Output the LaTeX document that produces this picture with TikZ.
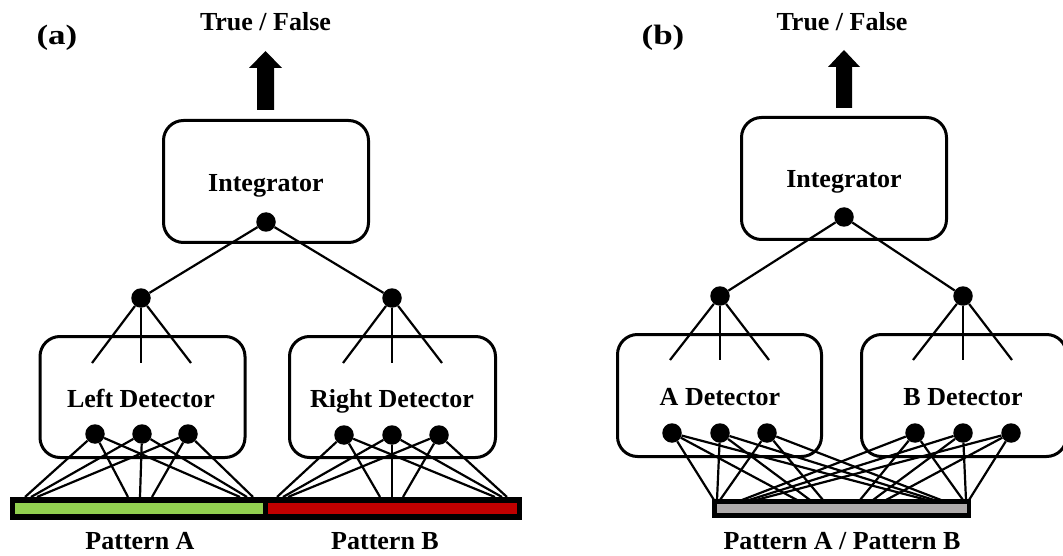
\documentclass[tikz,border=0pt]{standalone}
\usepackage{fontspec}
\usepackage{graphicx}
\setmainfont{Liberation Serif}
\definecolor{barGreen}{RGB}{146,208,80}
\definecolor{barRed}{RGB}{192,0,0}
\definecolor{barGray}{RGB}{174,170,170}
\begin{document}
\begin{tikzpicture}[x=1pt,y=-1pt,
  lbl/.style={font=\fontsize{26}{30}\selectfont\bfseries, inner sep=0pt, anchor=base},
  tag/.style={font=\fontsize{28}{32}\selectfont\bfseries, inner sep=0pt, anchor=base},
  unit/.style={draw, line width=3pt, rounded corners=20pt, inner sep=0pt},
  neuron/.style={circle, fill=black, inner sep=0pt, minimum size=19.5pt},
  wire/.style={line width=2.2pt},
  slab/.style={inner sep=0pt, anchor=north west},
]
\useasboundingbox (0,0) rectangle (1063,556);
\clip (0,0) rectangle (1063,556);

% ---------------- panel (a) ----------------
\node[tag] (labA) at (57,45) {\scalebox{1.25}[1]{(a)}};
\node[lbl] (tfA) at (265.5,31) {True / False};
\fill (257,110) -- (257,68) -- (249,68) -- (265.5,51) -- (282,68) -- (274,68) -- (274,110) -- cycle;

\node[unit, minimum width=205pt, minimum height=122pt] (intA) at (266,181.5) {};
\node[lbl] (intAtxt) at (266,192) {Integrator};
\node[neuron] (iA) at (266,222) {};

\node[neuron] (mA1) at (141,298) {};
\node[neuron] (mA2) at (392,298) {};
\draw[wire] (iA) -- (mA1);
\draw[wire] (iA) -- (mA2);

\node[unit, minimum width=205pt, minimum height=121pt] (detL) at (142.5,397) {};
\node[unit, minimum width=206pt, minimum height=121pt] (detR) at (392.5,397) {};
\node[lbl] (detLtxt) at (141,407) {Left Detector};
\node[lbl] (detRtxt) at (392,407) {Right Detector};

% fan from each detector output into its box
\foreach \n/\x in {1/92,2/141,3/191} {
  \coordinate (fL\n) at (\x,363);
  \draw[wire] (mA1) -- (fL\n);
}
\foreach \n/\x in {1/343,2/392,3/442} {
  \coordinate (fR\n) at (\x,363);
  \draw[wire] (mA2) -- (fR\n);
}

% detector input units
\foreach \n/\x in {1/95,2/142,3/188} \node[neuron] (dL\n) at (\x,434) {};
\foreach \n/\x in {1/344,2/392,3/439} \node[neuron] (dR\n) at (\x,435) {};

% input strip
\node[slab, fill=black, minimum width=512pt, minimum height=23pt] (barA) at (10,497) {};
\node[slab, fill=barGreen, minimum width=248pt, minimum height=11pt] (patA) at (15,503) {};
\node[slab, fill=barRed, minimum width=249pt, minimum height=11pt] (patB) at (268,503) {};
\node[lbl] (patAtxt) at (140,549) {Pattern A};
\node[lbl] (patBtxt) at (385,549) {Pattern B};

% receptive fields: left end, middle, right end of each half
\foreach \n/\a/\b/\c in {1/25/128/240, 2/31/140/247, 3/37/152/253} {
  \coordinate (sLa\n) at (\a,497);
  \coordinate (sLb\n) at (\b,497);
  \coordinate (sLc\n) at (\c,497);
  \draw[wire] (dL\n) -- (sLa\n);
  \draw[wire] (dL\n) -- (sLb\n);
  \draw[wire] (dL\n) -- (sLc\n);
}
\foreach \n/\a/\b/\c in {1/277/380/495, 2/283/392/502, 3/288/403/507} {
  \coordinate (sRa\n) at (\a,497);
  \coordinate (sRb\n) at (\b,497);
  \coordinate (sRc\n) at (\c,497);
  \draw[wire] (dR\n) -- (sRa\n);
  \draw[wire] (dR\n) -- (sRb\n);
  \draw[wire] (dR\n) -- (sRc\n);
}

% ---------------- panel (b) ----------------
\node[tag] (labB) at (663,45) {\scalebox{1.25}[1]{(b)}};
\node[lbl] (tfB) at (842,31) {True / False};
\fill (836,108) -- (836,67) -- (828,67) -- (844,50) -- (860,67) -- (852,67) -- (852,108) -- cycle;

\node[unit, minimum width=205pt, minimum height=122pt] (intB) at (844,178.5) {};
\node[lbl] (intBtxt) at (844,188) {Integrator};
\node[neuron] (iB) at (844,217) {};

\node[neuron] (mB1) at (720,296) {};
\node[neuron] (mB2) at (963,296) {};
\draw[wire] (iB) -- (mB1);
\draw[wire] (iB) -- (mB2);

\node[unit, minimum width=204pt, minimum height=122pt] (detA) at (719.5,395.5) {};
\node[unit, minimum width=205pt, minimum height=122pt] (detB) at (964,395.5) {};
\node[lbl] (detAtxt) at (720,405) {A Detector};
\node[lbl] (detBtxt) at (963,405) {B Detector};

\foreach \n/\x in {1/670,2/720,3/769} {
  \coordinate (fA\n) at (\x,360);
  \draw[wire] (mB1) -- (fA\n);
}
\foreach \n/\x in {1/913,2/963,3/1012} {
  \coordinate (fB\n) at (\x,360);
  \draw[wire] (mB2) -- (fB\n);
}

\foreach \n/\x in {1/672,2/720,3/767} \node[neuron] (dA\n) at (\x,433) {};
\foreach \n/\x in {1/915,2/963,3/1011} \node[neuron] (dB\n) at (\x,433) {};

\node[slab, fill=black, minimum width=259pt, minimum height=19pt] (barB) at (712,499) {};
\node[slab, fill=barGray, minimum width=250pt, minimum height=9pt] (patAB) at (717,504) {};
\node[lbl] (patABtxt) at (842,549) {Pattern A / Pattern B};

% both detectors see the whole strip
\foreach \n/\a/\b/\c in {1/714/797/927, 2/717/810/934, 3/720/823/941} {
  \coordinate (tAa\n) at (\a,500);
  \coordinate (tAb\n) at (\b,500);
  \coordinate (tAc\n) at (\c,500);
  \draw[wire] (dA\n) -- (tAa\n);
  \draw[wire] (dA\n) -- (tAb\n);
  \draw[wire] (dA\n) -- (tAc\n);
}
\foreach \n/\a/\b/\c in {1/742/860/963, 2/749/873/966, 3/756/886/969} {
  \coordinate (tBa\n) at (\a,500);
  \coordinate (tBb\n) at (\b,500);
  \coordinate (tBc\n) at (\c,500);
  \draw[wire] (dB\n) -- (tBa\n);
  \draw[wire] (dB\n) -- (tBb\n);
  \draw[wire] (dB\n) -- (tBc\n);
}
\end{tikzpicture}
\end{document}
